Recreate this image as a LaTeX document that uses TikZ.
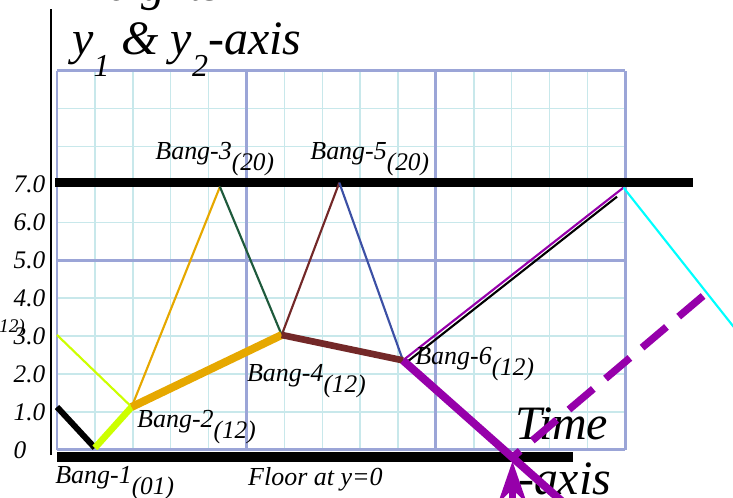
\documentclass[tikz,border=0pt]{standalone}
\usepackage{fontspec}
\setmainfont{Liberation Serif}
\usetikzlibrary{arrows.meta}
\definecolor{gridminor}{RGB}{200,232,235}
\definecolor{gridmajor}{RGB}{155,165,215}
\definecolor{limey}{RGB}{204,255,0}
\definecolor{ambery}{RGB}{230,168,0}
\definecolor{pinegreen}{RGB}{30,90,60}
\definecolor{rustbrown}{RGB}{115,40,40}
\definecolor{slateblue}{RGB}{60,80,165}
\definecolor{violetp}{RGB}{150,0,170}
\definecolor{aqua}{RGB}{0,255,255}
\newcommand{\lowsub}[1]{\raisebox{-0.4em}{\fontsize{19}{22}\selectfont #1}}
\newcommand{\titlesub}[1]{\raisebox{-0.45em}{\fontsize{24}{28}\selectfont #1}}

\begin{document}
\begin{tikzpicture}[
    thin path/.style={line width=1.6pt},
    bang label/.style={anchor=base west, inner sep=0pt, font=\fontsize{19.5}{22}\selectfont\itshape},
    tick label/.style={anchor=west, inner sep=0pt, font=\fontsize{19}{22}\selectfont\itshape},
    big label/.style={anchor=base west, inner sep=0pt, font=\fontsize{36}{40}\selectfont\itshape}
]
    \clip (-1.504,-1.266) rectangle (17.84,11.87);

    % Grid
    \draw[gridminor, line width=1.1pt] (0,0) grid (15,10);
    \draw[gridmajor, line width=2.2pt, step=5] (0,0) grid (15,10);

    % Axis, ceiling, floor
    \coordinate (axisbot) at (-0.16,-0.13);
    \coordinate (axistop) at (-0.16,11.62);
    \coordinate (ceilL) at (-0.05,7.05);
    \coordinate (ceilR) at (16.78,7.05);
    \coordinate (floorL) at (0,-0.18);
    \coordinate (floorR) at (13.61,-0.18);
    \draw[line width=2pt] (axisbot) -- (axistop);
    \draw[line width=6.5pt] (ceilL) -- (ceilR);
    \draw[line width=7.5pt] (floorL) -- (floorR);

    % Bang points
    \coordinate (B0) at (0,3.03);
    \coordinate (B0b) at (0,1.13);
    \coordinate (B1) at (1.0,0.05);
    \coordinate (B2) at (1.97,1.13);
    \coordinate (B3) at (4.30,6.94);
    \coordinate (B4) at (5.93,3.03);
    \coordinate (B5) at (7.45,7.05);
    \coordinate (B6) at (9.13,2.36);
    \coordinate (B6b) at (9.24,2.32);
    \coordinate (B7) at (14.95,6.92);
    \coordinate (B7b) at (14.78,6.68);
    \coordinate (rightcut) at (17.9,3.19);
    \coordinate (X) at (12.02,-0.2);
    \coordinate (botcut) at (13.37,-1.4);
    \coordinate (dashtop) at (17.05,4.06);
    \coordinate (arrowfoot) at (12.02,-1.7);
    \coordinate (arrowtip) at (12.02,-0.3);

    % Thin paths
    \draw[thin path, limey] (B0) -- (B2);
    \draw[thin path, ambery] (B2) -- (B3);
    \draw[thin path, pinegreen] (B3) -- (B4);
    \draw[thin path, rustbrown] (B4) -- (B5);
    \draw[thin path, slateblue] (B5) -- (B6);
    \draw[thin path, violetp] (B6) -- (B7);
    \draw[thin path, black] (B6b) -- (B7b);
    \draw[thin path, aqua] (B7) -- (rightcut);

    % Thick paths
    \draw[line width=4.5pt] (B0b) -- (B1);
    \draw[line width=5pt, limey] (B1) -- (B2);
    \draw[line width=6pt, ambery] (B2) -- (B4);
    \draw[line width=5pt, rustbrown] (B4) -- (B6);

    % Labels
    \node[bang label] (bang1) at (-0.05,-0.9) {Bang-1\lowsub{(01)}};
    \node[bang label] (bang2) at (2.11,0.58) {Bang-2\lowsub{(12)}};
    \node[bang label] (bang3) at (2.59,7.65) {Bang-3\lowsub{(20)}};
    \node[bang label] (bang4) at (5.01,1.79) {Bang-4\lowsub{(12)}};
    \node[bang label] (bang5) at (6.68,7.65) {Bang-5\lowsub{(20)}};
    \node[bang label] (bang6) at (9.45,2.24) {Bang-6\lowsub{(12)}};
    \node[bang label, anchor=base east] (bang0) at (-0.84,3.09) {\fontsize{14.5}{17}\selectfont(12)};
    \node[bang label] (floorlabel) at (5.04,-0.95) {Floor at y=0};
    \foreach \yv/\txt in {7/7.0,6/6.0,5/5.0,4/4.0,3/3.0,2/2.0,1/1.0,0/0}
        \node[tick label] (tick\yv) at (-1.15,\yv) {\txt};
    \node[big label] (heights) at (0.40,11.85) {Heights};
    \node[big label] (yaxis) at (0.40,10.42) {y\titlesub{1} \& y\titlesub{2}-axis};
    \node[big label] (time) at (12.08,0.26) {Time};
    \node[big label] (timeaxis) at (12.16,-1.19) {-axis};

    % Purple paths
    \draw[line width=6pt, violetp] (B6) -- (botcut);
    \draw[line width=5.5pt, violetp, dash pattern=on 24pt off 12pt] (dashtop) -- (X);
    \draw[line width=5pt, violetp, -{Stealth[length=1.1cm, width=0.75cm]}] (arrowfoot) -- (arrowtip);
\end{tikzpicture}
\end{document}
